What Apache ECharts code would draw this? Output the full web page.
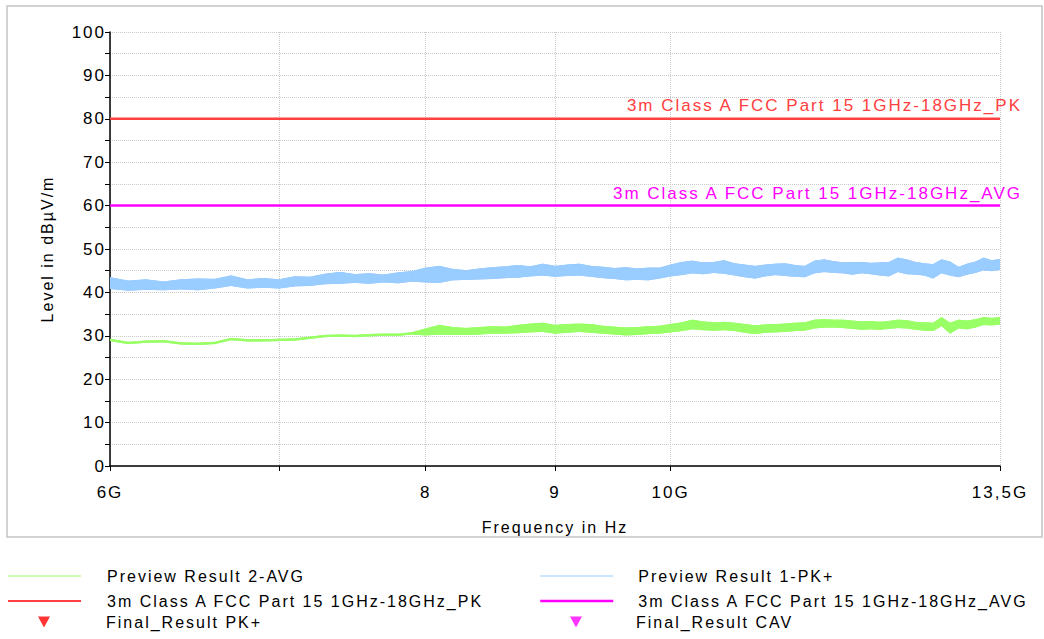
<!DOCTYPE html>
<html>
<head>
<meta charset="utf-8">
<script src="https://cdn.jsdelivr.net/npm/echarts@6/dist/echarts.min.js"></script>
<style>
  html, body { margin: 0; padding: 0; background: #fff; }
  #chart { width: 1044px; height: 639px; }
  #chart text { letter-spacing: 2px; }
</style>
</head>
<body>
<div id="chart"></div>
<script>
// sweep points (GHz)
const freqGHz = [
  6.0, 6.1, 6.2, 6.3, 6.4, 6.5, 6.6, 6.7, 6.8, 6.9,
  7.0, 7.1, 7.2, 7.3, 7.4, 7.5, 7.6, 7.7, 7.8, 7.9,
  8.0, 8.1, 8.2, 8.3, 8.4, 8.5, 8.6, 8.7, 8.8, 8.9,
  9.0, 9.1, 9.2, 9.3, 9.4, 9.5, 9.6, 9.7, 9.8, 9.9,
  10.0, 10.1, 10.2, 10.3, 10.4, 10.5, 10.6, 10.7, 10.8, 10.9,
  11.0, 11.1, 11.2, 11.3, 11.4, 11.5, 11.6, 11.7, 11.8, 11.9,
  12.0, 12.1, 12.2, 12.3, 12.4, 12.5, 12.6, 12.7, 12.8, 12.9,
  13.0, 13.1, 13.2, 13.3, 13.4, 13.5
]

// Preview Result 1-PK+ : lower / upper edge of the noise band (dBµV/m)
const pkLow = [
  40.9, 40.5, 40.7, 40.6, 40.8, 40.6, 41.0, 41.6, 41.0, 41.2,
  41.0, 41.5, 41.6, 42.0, 42.1, 42.3, 42.1, 42.4, 42.2, 42.6,
  42.4, 42.3, 42.9, 43.0, 43.1, 43.2, 43.4, 43.5, 43.8, 44.0,
  43.7, 43.9, 44.0, 43.7, 43.4, 43.2, 42.9, 43.0, 42.9, 43.3,
  43.8, 44.1, 44.5, 44.3, 44.6, 44.4, 44.0, 43.6, 43.3, 43.8,
  44.1, 43.9, 43.7, 43.6, 44.5, 44.8, 44.6, 44.5, 44.2, 44.5,
  44.3, 44.0, 43.8, 44.8, 44.3, 44.2, 44.0, 43.3, 44.5, 44.0,
  43.6, 44.2, 44.6, 45.2, 45.0, 45.3
]
const pkHigh = [
  43.4, 42.6, 42.9, 42.4, 42.9, 43.1, 43.0, 43.8, 42.9, 43.2,
  42.9, 43.6, 43.5, 44.2, 44.6, 44.1, 44.3, 44.0, 44.5, 44.8,
  45.6, 46.0, 45.3, 45.0, 45.4, 45.7, 45.9, 46.2, 45.9, 46.5,
  46.0, 46.3, 46.5, 46.0, 45.8, 45.5, 45.7, 45.4, 45.6, 45.6,
  46.3, 46.9, 47.2, 46.8, 46.9, 47.3, 46.6, 46.3, 46.0, 46.3,
  46.5, 46.6, 46.2, 46.0, 47.2, 47.5, 47.1, 46.8, 46.9, 46.9,
  46.7, 46.8, 46.9, 47.9, 47.5, 46.9, 46.6, 46.4, 47.5, 47.0,
  45.8, 46.5, 47.0, 47.9, 47.3, 47.6
]

// Preview Result 2-AVG
const avgLow = [
  28.9, 28.2, 28.5, 28.6, 28.1, 28.0, 28.2, 29.1, 28.8, 28.8,
  28.9, 29.0, 29.4, 29.8, 29.9, 29.8, 30.0, 30.1, 30.1, 30.4,
  30.2, 30.4, 30.3, 30.3, 30.4, 30.6, 30.6, 30.7, 30.9, 31.0,
  30.6, 30.8, 31.0, 30.8, 30.6, 30.4, 30.2, 30.3, 30.5, 30.6,
  30.9, 31.2, 31.6, 31.4, 31.3, 31.4, 31.2, 30.8, 30.5, 30.8,
  30.9, 31.0, 31.2, 31.3, 31.8, 32.0, 32.0, 31.9, 31.7, 31.5,
  31.6, 31.5, 31.7, 31.9, 31.8, 31.5, 31.3, 31.2, 32.3, 30.6,
  31.8, 31.6, 32.0, 32.6, 32.5, 32.7
]
const avgHigh = [
  29.2, 28.5, 28.8, 28.9, 28.4, 28.3, 28.5, 29.4, 29.1, 29.1,
  29.2, 29.3, 29.7, 30.1, 30.2, 30.1, 30.3, 30.4, 30.4, 30.7,
  31.6, 32.4, 31.9, 31.7, 31.9, 32.1, 32.0, 32.4, 32.7, 32.9,
  32.4, 32.6, 32.7, 32.6, 32.2, 32.0, 31.8, 31.9, 32.1, 32.2,
  32.6, 33.0, 33.6, 33.2, 33.0, 33.1, 32.9, 32.6, 32.3, 32.5,
  32.6, 32.7, 32.9, 33.0, 33.6, 33.7, 33.6, 33.6, 33.4, 33.2,
  33.3, 33.1, 33.3, 33.6, 33.5, 33.1, 33.0, 32.9, 34.2, 32.9,
  33.6, 33.4, 33.7, 34.2, 34.0, 34.2
]

// limit lines
const limitPk = 80
const limitAvg = 60
const limitPkName = '3m Class A FCC Part 15 1GHz-18GHz_PK'
const limitAvgName = '3m Class A FCC Part 15 1GHz-18GHz_AVG'

// axes
const freqMin = 6
const freqMax = 13.5
const xTickFreqs = [6, 7, 8, 9, 10, 13.5]
const xLabelFreqs = [6, 8, 9, 10, 13.5]
const xLabelTexts = ['6G', '8', '9', '10G', '13,5G']

const BLUE = '#99CCFF'
const GREEN = '#99FF66'
const RED = '#FF4040'
const MAGENTA = '#FF00FF'
const FONT = "'Liberation Sans', Arial, sans-serif"
const TRI = 'path://M0,0L12,0L6,11Z'

const lg = (f) => Math.log10(f)
const xs = freqGHz.map(lg)
const pairs = (vals) => xs.map((x, i) => [x, vals[i]])

// filled band between lower and upper edge, one quad per sweep step
function bandSeries(id, lo, hi, color) {
  return {
    id,
    type: 'custom',
    silent: true,
    clip: true,
    data: xs.map((x, i) => [x, lo[i], hi[i]]),
    encode: { x: 0, y: [1, 2] },
    renderItem: (params, api) => {
      const j = params.dataIndexInside + 1
      if (j >= xs.length) return null
      const pts = [
        api.coord([api.value(0), api.value(1)]),
        api.coord([api.value(0, j), api.value(1, j)]),
        api.coord([api.value(0, j), api.value(2, j)]),
        api.coord([api.value(0), api.value(2)])
      ]
      return {
        type: 'polygon',
        shape: { points: pts },
        style: { fill: color, stroke: color, lineWidth: 1 }
      }
    }
  }
}

function edgeSeries(name, vals, color) {
  return {
    name,
    type: 'line',
    symbol: 'none',
    data: pairs(vals),
    lineStyle: { color, width: 1 },
    itemStyle: { color }
  }
}

function limitSeries(name, level, color, dy) {
  return {
    name,
    type: 'line',
    symbol: 'none',
    data: [[lg(freqMin), level], [lg(freqMax), level]],
    lineStyle: { color, width: 2.5 },
    itemStyle: { color },
    endLabel: {
      show: true,
      formatter: name,
      align: 'right',
      verticalAlign: 'middle',
      distance: 0,
      offset: [22, dy],
      fontFamily: FONT, fontSize: 17, color
    }
  }
}

function legendText(w) {
  return {
    padding: 0,
    selectedMode: false,
    orient: 'vertical',
    formatter: (name) => '{s|}{t|' + name + '}',
    textStyle: {
      fontFamily: FONT, fontSize: 16, color: '#000',
      rich: { s: { width: w }, t: { fontFamily: FONT, fontSize: 16, color: '#000' } }
    }
  }
}

const lineLegend = { itemWidth: 73, itemHeight: 12, itemGap: 9, itemStyle: { opacity: 0 } }
const triLegend = { itemWidth: 12, itemHeight: 11 }

const chart = echarts.init(document.getElementById('chart'), null, { renderer: 'svg' })

chart.setOption({
  backgroundColor: '#fff',
  animation: false,
  textStyle: { fontFamily: FONT },
  graphic: [{
    type: 'rect',
    shape: { x: 7, y: 6, width: 1035, height: 531 },
    style: { fill: 'none', stroke: '#c4c4c4', lineWidth: 1.5 },
    silent: true
  }],
  grid: { left: 110, right: 44, top: 32, bottom: 173 },
  xAxis: {
    type: 'value',
    min: lg(freqMin),
    max: lg(freqMax),
    name: 'Frequency in Hz',
    nameLocation: 'middle',
    nameGap: 53,
    nameTextStyle: { fontFamily: FONT, fontSize: 16, color: '#000' },
    axisLine: { lineStyle: { color: '#000', width: 1.5 } },
    axisTick: { customValues: xTickFreqs.map(lg), length: 5, lineStyle: { color: '#000' } },
    axisLabel: {
      customValues: xLabelFreqs.map(lg),
      margin: 18,
      fontFamily: FONT, fontSize: 17, color: '#000',
      formatter: (v) => {
        const f = Math.round(Math.pow(10, v) * 10) / 10
        const i = xLabelFreqs.indexOf(f)
        return i >= 0 ? xLabelTexts[i] : ''
      }
    },
    splitLine: { show: true, lineStyle: { color: '#c8c8c8', type: 'dotted', width: 1 } }
  },
  yAxis: {
    type: 'value',
    min: 0,
    max: 100,
    interval: 5,
    name: 'Level in dBµV/m',
    nameLocation: 'middle',
    nameGap: 55,
    nameTextStyle: { fontFamily: FONT, fontSize: 16, color: '#000' },
    axisLine: { show: true, lineStyle: { color: '#000', width: 1.5 } },
    axisTick: { show: true, length: 5, lineStyle: { color: '#000' } },
    axisLabel: {
      margin: 4,
      fontFamily: FONT, fontSize: 17, color: '#000',
      formatter: (v) => (v % 10 === 0 ? String(v) : '')
    },
    splitLine: { show: true, lineStyle: { color: '#c8c8c8', type: 'dotted', width: 1 } }
  },
  legend: [
    Object.assign(legendText(21), lineLegend, {
      left: 7, top: 568,
      data: [
        { name: 'Preview Result 2-AVG', lineStyle: { width: 1 } },
        { name: limitPkName, lineStyle: { width: 2 } }
      ]
    }),
    Object.assign(legendText(51), triLegend, {
      left: 38, top: 614, data: [{ name: 'Final_Result PK+', icon: TRI }]
    }),
    Object.assign(legendText(20), lineLegend, {
      left: 539, top: 568,
      data: [
        { name: 'Preview Result 1-PK+', lineStyle: { width: 1 } },
        { name: limitAvgName, lineStyle: { width: 2.5 } }
      ]
    }),
    Object.assign(legendText(49), triLegend, {
      left: 570, top: 614, data: [{ name: 'Final_Result CAV', icon: TRI }]
    })
  ],
  series: [
    bandSeries('pk-band', pkLow, pkHigh, BLUE),
    edgeSeries('Preview Result 1-PK+', pkHigh, BLUE),
    edgeSeries('pk-low', pkLow, BLUE),
    bandSeries('avg-band', avgLow, avgHigh, GREEN),
    edgeSeries('Preview Result 2-AVG', avgHigh, GREEN),
    edgeSeries('avg-low', avgLow, GREEN),
    limitSeries(limitPkName, limitPk, RED, -13),
    limitSeries(limitAvgName, limitAvg, MAGENTA, -12),
    { name: 'Final_Result PK+', type: 'scatter', symbol: TRI, data: [], itemStyle: { color: '#FF0000' } },
    { name: 'Final_Result CAV', type: 'scatter', symbol: TRI, data: [], itemStyle: { color: MAGENTA } }
  ]
})
</script>
</body>
</html>
